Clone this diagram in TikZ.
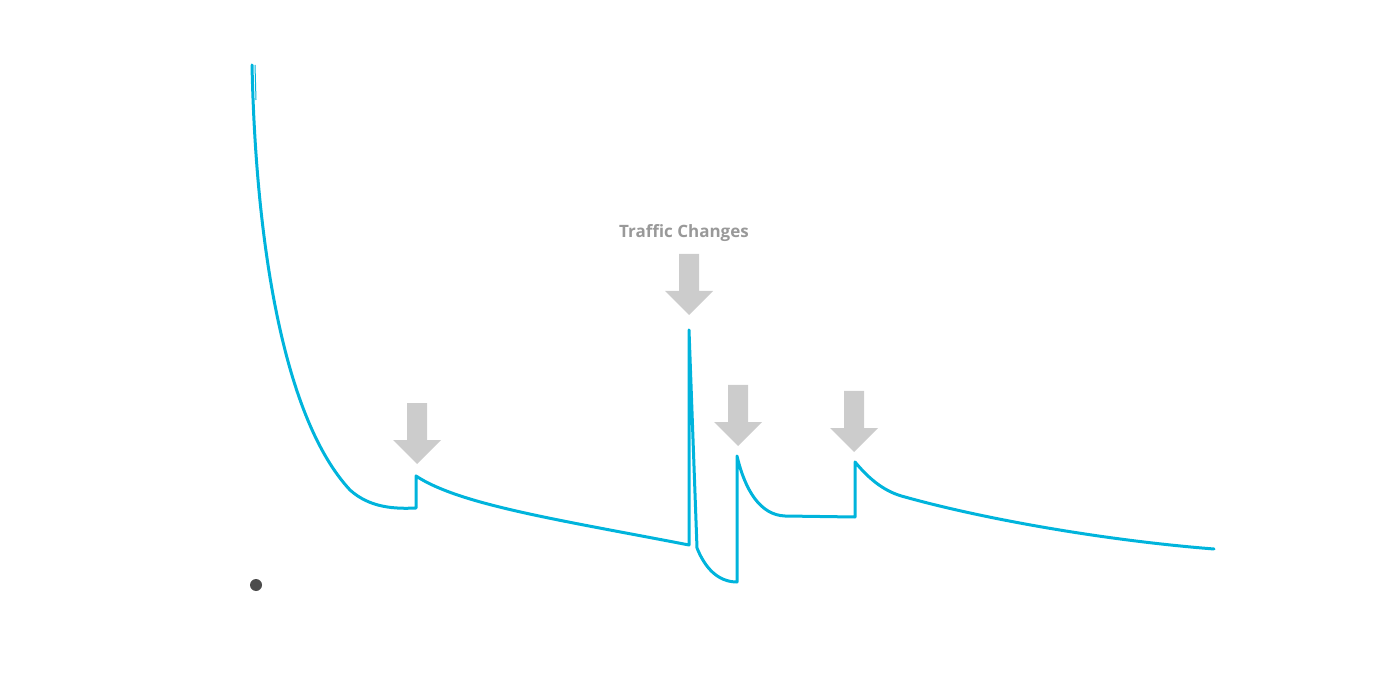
\documentclass[tikz,border=0pt]{standalone}
\usepackage{fontspec}
\setmainfont{Open Sans}
\definecolor{curve}{HTML}{00B4DC}
\definecolor{arrowgray}{HTML}{CCCCCC}
\definecolor{labelgray}{HTML}{999999}
\tikzset{
  trace/.style={draw=curve,line width=3pt,line join=round,line cap=round},
  downarrow/.pic={\fill[arrowgray] (-10,0) -- (10,0) -- (10,37) -- (24,37) -- (0,61) -- (-24,37) -- (-10,37) -- cycle;}
}
\begin{document}
\begin{tikzpicture}[x=1pt,y=-1pt]
\useasboundingbox (0,0) rectangle (1400,700);
\draw[trace] (252,65) .. controls (256,250) and (285,420) .. (350,490)
  .. controls (370,508) and (395,509) .. (416,508) -- (416,476)
  .. controls (460,505) and (560,520) .. (689,545) -- (689,330) -- (697,548)
  .. controls (705,568) and (718,582) .. (737,582) -- (737,456)
  .. controls (745,490) and (760,515) .. (785,516) -- (855,517) -- (855,462)
  .. controls (870,480) and (885,492) .. (905,497)
  .. controls (980,518) and (1100,540) .. (1214,549);
\draw[draw=curve,line width=1pt] (255,65) -- (256,100);
\pic at (417,403) {downarrow};
\pic at (689,254) {downarrow};
\pic at (738,385) {downarrow};
\pic at (854,391) {downarrow};
\node[text=labelgray,font=\fontsize{17}{20}\selectfont\bfseries] (lbl) at (684,233) {Traffic Changes};
\fill[black!70] (256,585) circle (6);
\end{tikzpicture}
\end{document}
